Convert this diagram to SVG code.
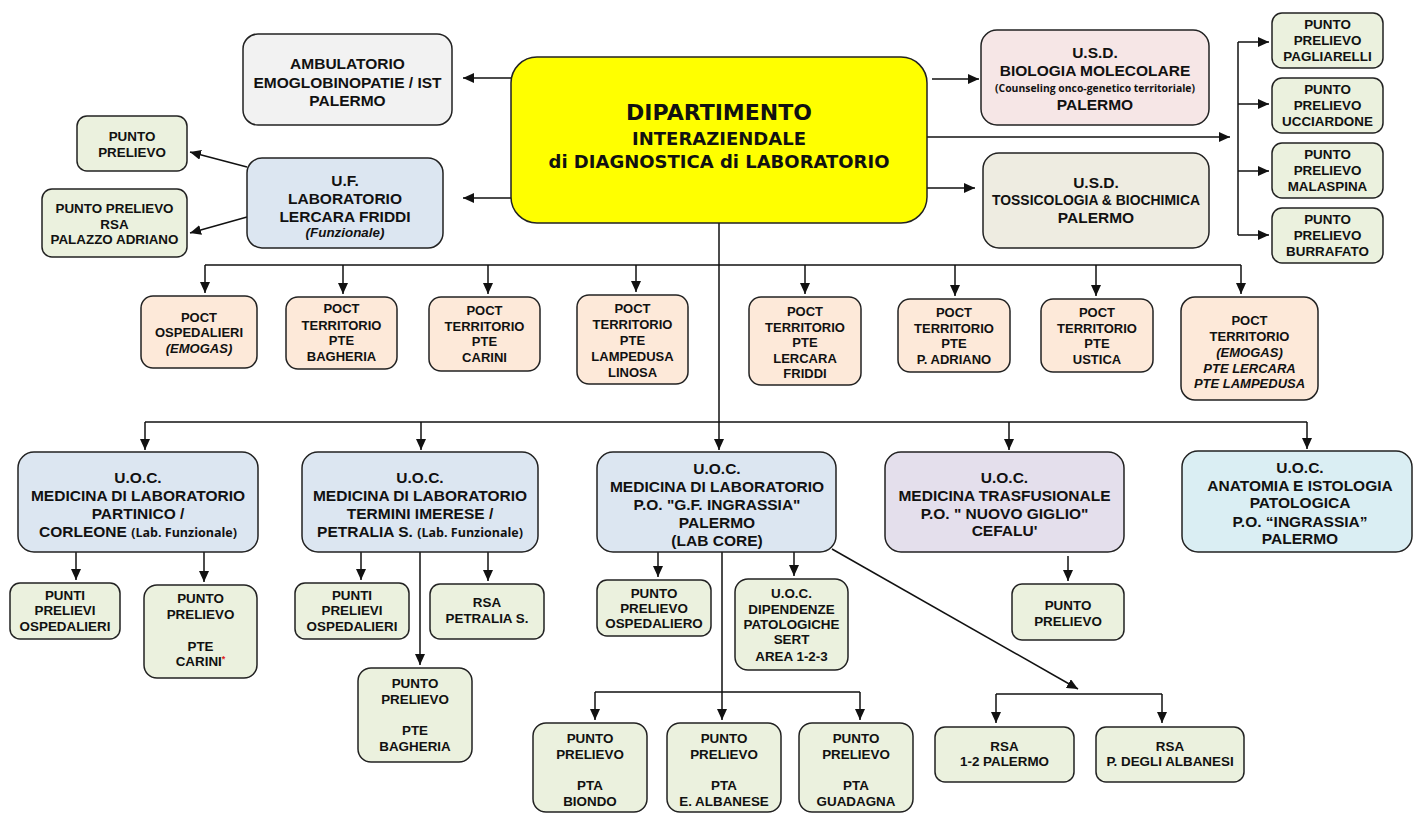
<svg xmlns="http://www.w3.org/2000/svg" width="1413" height="816" viewBox="0 0 1413 816">
<defs>
<marker id="ah" markerWidth="11" markerHeight="10" refX="11" refY="5" orient="auto" markerUnits="userSpaceOnUse"><path d="M0,0 L11,5 L0,10 z" fill="#111"/></marker>
<style>
.bx{stroke:#222;stroke-width:1.5}
.grey{fill:#f2f2f2}.yel{fill:#ffff00}.pink{fill:#f6e6e6}.tan{fill:#eeece1}
.grn{fill:#ebf1de}.blu{fill:#dce6f1}.poct{fill:#fde9d9}.lav{fill:#e4dfec}.cyan{fill:#daeef3}
text{font-family:"Liberation Sans",Arial,sans-serif;font-weight:bold;text-anchor:middle;fill:#111}
.L{font-size:15.5px}.S{font-size:13.4px}.P{font-size:13px}
.it{font-style:italic}
.dj{font-family:"DejaVu Sans",Verdana,sans-serif}
.cal{font-family:"Open Sans","Liberation Sans",sans-serif;font-weight:bold}
.ln{fill:none;stroke:#111;stroke-width:1.5}
.ar{marker-end:url(#ah)}
</style>
</defs>
<rect width="1413" height="816" fill="#fff"/>

<g id="connectors">
<path class="ln ar" d="M511,78 H463"/>
<path class="ln ar" d="M511,198 H463"/>
<path class="ln ar" d="M247,167 L190,152"/>
<path class="ln ar" d="M247,217 L190,233"/>
<path class="ln ar" d="M932,79 H979"/>
<path class="ln ar" d="M927,137 H1230"/>
<path class="ln ar" d="M927,188 H975"/>
<path class="ln" d="M1238,42 V235"/>
<path class="ln ar" d="M1238,42 H1269"/>
<path class="ln ar" d="M1238,104 H1269"/>
<path class="ln ar" d="M1238,171 H1269"/>
<path class="ln ar" d="M1238,235 H1269"/>
<path class="ln ar" d="M719,223 V450"/>
<path class="ln" d="M205,265 H1241"/>
<path class="ln ar" d="M205,265 V293"/>
<path class="ln ar" d="M343,265 V294"/>
<path class="ln ar" d="M488,265 V294"/>
<path class="ln ar" d="M636,265 V292"/>
<path class="ln ar" d="M805,265 V294"/>
<path class="ln ar" d="M955,265 V296"/>
<path class="ln ar" d="M1096,265 V296"/>
<path class="ln ar" d="M1241,265 V294"/>
<path class="ln" d="M145,422 H1307"/>
<path class="ln ar" d="M145,422 V450"/>
<path class="ln ar" d="M421,422 V450"/>
<path class="ln ar" d="M1009,422 V450"/>
<path class="ln ar" d="M1307,422 V449"/>
<path class="ln ar" d="M76,552 V580"/>
<path class="ln ar" d="M204,552 V582"/>
<path class="ln ar" d="M361,552 V580"/>
<path class="ln ar" d="M488,552 V581"/>
<path class="ln ar" d="M420,552 V665"/>
<path class="ln ar" d="M658,552 V577"/>
<path class="ln ar" d="M794,552 V576"/>
<path class="ln" d="M722,552 V692 M595,692 H860"/>
<path class="ln ar" d="M595,692 V720"/>
<path class="ln ar" d="M722,692 V720"/>
<path class="ln ar" d="M860,692 V720"/>
<path class="ln ar" d="M832,549 L1078,689"/>
<path class="ln" d="M996,694 H1162"/>
<path class="ln ar" d="M996,694 V723"/>
<path class="ln ar" d="M1162,694 V723"/>
<path class="ln ar" d="M1068,556 V581"/>
</g>

<g id="ambulatorio">
<rect class="bx grey" x="243" y="34" width="209" height="91" rx="15"/>
<text class="L" x="347.5" y="69">AMBULATORIO</text>
<text class="L" x="347.5" y="88">EMOGLOBINOPATIE / IST</text>
<text class="L" x="347.5" y="106">PALERMO</text>
</g>

<g id="dipartimento">
<rect class="bx yel" x="511" y="57" width="416" height="166" rx="26"/>
<text class="dj" x="719" y="120" font-size="22">DIPARTIMENTO</text>
<text class="dj" x="719" y="145" font-size="18">INTERAZIENDALE</text>
<text class="dj" x="719" y="168" font-size="18">di DIAGNOSTICA di LABORATORIO</text>
</g>

<g id="punto-prelievo-lf">
<rect class="bx grn" x="77" y="116" width="110" height="55" rx="10"/>
<text class="S" x="132" y="141">PUNTO</text>
<text class="S" x="132" y="157">PRELIEVO</text>
</g>

<g id="rsa-palazzo-adriano">
<rect class="bx grn" x="42" y="189" width="145" height="68" rx="10"/>
<text class="S" x="114.5" y="213">PUNTO PRELIEVO</text>
<text class="S" x="114.5" y="229">RSA</text>
<text class="S" x="114.5" y="244">PALAZZO ADRIANO</text>
</g>

<g id="uf-lercara">
<rect class="bx blu" x="247" y="158" width="196" height="90" rx="15"/>
<text class="L" x="345" y="185.5">U.F.</text>
<text class="L" x="345" y="203.5">LABORATORIO</text>
<text class="L" x="345" y="221.5">LERCARA FRIDDI</text>
<text class="S it" x="345" y="237">(Funzionale)</text>
</g>

<g id="usd-biologia">
<rect class="bx pink" x="981" y="30" width="228" height="95" rx="16"/>
<text class="L" x="1095" y="57.5">U.S.D.</text>
<text class="L" x="1095" y="75.5">BIOLOGIA MOLECOLARE</text>
<text class="cal" x="1095" y="92" font-size="11" textLength="200" lengthAdjust="spacingAndGlyphs">(Counseling onco-genetico territoriale)</text>
<text class="L" x="1095" y="109.5">PALERMO</text>
</g>

<g id="usd-tossicologia">
<rect class="bx tan" x="983" y="153" width="226" height="95" rx="16"/>
<text class="L" x="1096" y="187.5">U.S.D.</text>
<text class="L" x="1096" y="204.5" textLength="208" lengthAdjust="spacingAndGlyphs">TOSSICOLOGIA &amp; BIOCHIMICA</text>
<text class="L" x="1096" y="222.5">PALERMO</text>
</g>

<g id="pp-pagliarelli">
<rect class="bx grn" x="1272" y="13" width="111" height="55" rx="10"/>
<text class="S" x="1327.5" y="29">PUNTO</text>
<text class="S" x="1327.5" y="45">PRELIEVO</text>
<text class="S" x="1327.5" y="61">PAGLIARELLI</text>
</g>
<g id="pp-ucciardone">
<rect class="bx grn" x="1272" y="78" width="111" height="55" rx="10"/>
<text class="S" x="1327.5" y="94">PUNTO</text>
<text class="S" x="1327.5" y="110">PRELIEVO</text>
<text class="S" x="1327.5" y="126">UCCIARDONE</text>
</g>
<g id="pp-malaspina">
<rect class="bx grn" x="1272" y="143" width="111" height="55" rx="10"/>
<text class="S" x="1327.5" y="159">PUNTO</text>
<text class="S" x="1327.5" y="175">PRELIEVO</text>
<text class="S" x="1327.5" y="191">MALASPINA</text>
</g>
<g id="pp-burrafato">
<rect class="bx grn" x="1272" y="208" width="111" height="55" rx="10"/>
<text class="S" x="1327.5" y="224">PUNTO</text>
<text class="S" x="1327.5" y="240">PRELIEVO</text>
<text class="S" x="1327.5" y="256">BURRAFATO</text>
</g>

<g id="poct-ospedalieri">
<rect class="bx poct" x="141" y="296" width="116" height="72" rx="12"/>
<text class="P" x="199" y="321.5">POCT</text>
<text class="P" x="199" y="337">OSPEDALIERI</text>
<text class="P it" x="199" y="352.5">(EMOGAS)</text>
</g>
<g id="poct-bagheria">
<rect class="bx poct" x="286" y="297" width="111" height="72" rx="12"/>
<text class="P" x="341.5" y="313">POCT</text>
<text class="P" x="341.5" y="329.5">TERRITORIO</text>
<text class="P" x="341.5" y="345">PTE</text>
<text class="P" x="341.5" y="360.5">BAGHERIA</text>
</g>
<g id="poct-carini">
<rect class="bx poct" x="429" y="297" width="111" height="74" rx="12"/>
<text class="P" x="484.5" y="315">POCT</text>
<text class="P" x="484.5" y="331">TERRITORIO</text>
<text class="P" x="484.5" y="346">PTE</text>
<text class="P" x="484.5" y="362">CARINI</text>
</g>
<g id="poct-lampedusa">
<rect class="bx poct" x="577" y="295" width="111" height="89" rx="12"/>
<text class="P" x="632.5" y="313">POCT</text>
<text class="P" x="632.5" y="329">TERRITORIO</text>
<text class="P" x="632.5" y="345">PTE</text>
<text class="P" x="632.5" y="361">LAMPEDUSA</text>
<text class="P" x="632.5" y="377">LINOSA</text>
</g>
<g id="poct-lercara">
<rect class="bx poct" x="749" y="297" width="112" height="88" rx="12"/>
<text class="P" x="805" y="316">POCT</text>
<text class="P" x="805" y="332">TERRITORIO</text>
<text class="P" x="805" y="347">PTE</text>
<text class="P" x="805" y="363">LERCARA</text>
<text class="P" x="805" y="378">FRIDDI</text>
</g>
<g id="poct-padriano">
<rect class="bx poct" x="898" y="299" width="112" height="73" rx="12"/>
<text class="P" x="954" y="317">POCT</text>
<text class="P" x="954" y="333">TERRITORIO</text>
<text class="P" x="954" y="348">PTE</text>
<text class="P" x="954" y="364">P. ADRIANO</text>
</g>
<g id="poct-ustica">
<rect class="bx poct" x="1041" y="299" width="112" height="73" rx="12"/>
<text class="P" x="1097" y="317">POCT</text>
<text class="P" x="1097" y="333">TERRITORIO</text>
<text class="P" x="1097" y="348">PTE</text>
<text class="P" x="1097" y="364">USTICA</text>
</g>
<g id="poct-emogas">
<rect class="bx poct" x="1181" y="297" width="137" height="103" rx="14"/>
<text class="P" x="1249.5" y="325">POCT</text>
<text class="P" x="1249.5" y="341">TERRITORIO</text>
<text class="P it" x="1249.5" y="357">(EMOGAS)</text>
<text class="P it" x="1249.5" y="373">PTE LERCARA</text>
<text class="P it" x="1249.5" y="388">PTE LAMPEDUSA</text>
</g>

<g id="uoc-partinico">
<rect class="bx blu" x="18" y="452" width="240" height="100" rx="16"/>
<text class="L" x="138" y="482.5">U.O.C.</text>
<text class="L" x="138" y="500.5">MEDICINA DI LABORATORIO</text>
<text class="L" x="138" y="518.5">PARTINICO /</text>
<text class="L" x="138" y="536.5">CORLEONE <tspan class="cal" font-size="12.5">(Lab. Funzionale)</tspan></text>
</g>
<g id="uoc-termini">
<rect class="bx blu" x="302" y="452" width="236" height="100" rx="16"/>
<text class="L" x="420" y="482.5">U.O.C.</text>
<text class="L" x="420" y="500.5">MEDICINA DI LABORATORIO</text>
<text class="L" x="420" y="518.5">TERMINI IMERESE /</text>
<text class="L" x="420" y="536.5">PETRALIA S. <tspan class="cal" font-size="12.5">(Lab. Funzionale)</tspan></text>
</g>
<g id="uoc-labcore">
<rect class="bx blu" x="597" y="452" width="239" height="100" rx="16"/>
<text class="L" x="717" y="473.5">U.O.C.</text>
<text class="L" x="717" y="491.5">MEDICINA DI LABORATORIO</text>
<text class="L" x="717" y="509.5">P.O. "G.F. INGRASSIA"</text>
<text class="L" x="717" y="527.5">PALERMO</text>
<text class="L" x="717" y="545.5">(LAB CORE)</text>
</g>
<g id="uoc-trasfusionale">
<rect class="bx lav" x="885" y="452" width="239" height="100" rx="16"/>
<text class="L" x="1004.5" y="482.5">U.O.C.</text>
<text class="L" x="1004.5" y="500.5">MEDICINA TRASFUSIONALE</text>
<text class="L" x="1004.5" y="518.5">P.O. " NUOVO GIGLIO"</text>
<text class="L" x="1004.5" y="535.5">CEFALU'</text>
</g>
<g id="uoc-anatomia">
<rect class="bx cyan" x="1182" y="451" width="230" height="101" rx="16"/>
<text class="L" x="1300" y="472.5">U.O.C.</text>
<text class="L" x="1300" y="490.5">ANATOMIA E ISTOLOGIA</text>
<text class="L" x="1300" y="507.5">PATOLOGICA</text>
<text class="L" x="1300" y="526.5">P.O. “INGRASSIA”</text>
<text class="L" x="1300" y="543.5">PALERMO</text>
</g>

<g id="punti-prelievi-osp-1">
<rect class="bx grn" x="10" y="583" width="110" height="56" rx="10"/>
<text class="S" x="65" y="600">PUNTI</text>
<text class="S" x="65" y="615">PRELIEVI</text>
<text class="S" x="65" y="631">OSPEDALIERI</text>
</g>
<g id="pp-pte-carini">
<rect class="bx grn" x="144" y="585" width="113" height="93" rx="13"/>
<text class="S" x="200.5" y="603">PUNTO</text>
<text class="S" x="200.5" y="619">PRELIEVO</text>
<text class="S" x="200.5" y="651">PTE</text>
<text class="S" x="200.5" y="666">CARINI<tspan fill="#e02020" font-size="9" dy="-4">*</tspan></text>
</g>
<g id="punti-prelievi-osp-2">
<rect class="bx grn" x="295" y="583" width="114" height="56" rx="10"/>
<text class="S" x="352" y="600">PUNTI</text>
<text class="S" x="352" y="615">PRELIEVI</text>
<text class="S" x="352" y="631">OSPEDALIERI</text>
</g>
<g id="rsa-petralia">
<rect class="bx grn" x="430" y="584" width="114" height="55" rx="10"/>
<text class="S" x="487" y="607">RSA</text>
<text class="S" x="487" y="623">PETRALIA S.</text>
</g>
<g id="pp-pte-bagheria">
<rect class="bx grn" x="358" y="668" width="114" height="94" rx="13"/>
<text class="S" x="415" y="688">PUNTO</text>
<text class="S" x="415" y="704">PRELIEVO</text>
<text class="S" x="415" y="735">PTE</text>
<text class="S" x="415" y="751">BAGHERIA</text>
</g>
<g id="pp-ospedaliero">
<rect class="bx grn" x="597" y="580" width="114" height="56" rx="10"/>
<text class="S" x="654" y="598">PUNTO</text>
<text class="S" x="654" y="613">PRELIEVO</text>
<text class="S" x="654" y="628">OSPEDALIERO</text>
</g>
<g id="uoc-dipendenze">
<rect class="bx grn" x="735" y="579" width="113" height="91" rx="13"/>
<text class="S" x="791.5" y="598">U.O.C.</text>
<text class="S" x="791.5" y="614">DIPENDENZE</text>
<text class="S" x="791.5" y="629">PATOLOGICHE</text>
<text class="S" x="791.5" y="644">SERT</text>
<text class="S" x="791.5" y="661">AREA 1-2-3</text>
</g>
<g id="pp-trasfusionale">
<rect class="bx grn" x="1012" y="584" width="112" height="56" rx="10"/>
<text class="S" x="1068" y="610">PUNTO</text>
<text class="S" x="1068" y="626">PRELIEVO</text>
</g>
<g id="pta-biondo">
<rect class="bx grn" x="533" y="723" width="114" height="89" rx="13"/>
<text class="S" x="590" y="743">PUNTO</text>
<text class="S" x="590" y="759">PRELIEVO</text>
<text class="S" x="590" y="790">PTA</text>
<text class="S" x="590" y="806">BIONDO</text>
</g>
<g id="pta-albanese">
<rect class="bx grn" x="667" y="723" width="114" height="89" rx="13"/>
<text class="S" x="724" y="743">PUNTO</text>
<text class="S" x="724" y="759">PRELIEVO</text>
<text class="S" x="724" y="790">PTA</text>
<text class="S" x="724" y="806">E. ALBANESE</text>
</g>
<g id="pta-guadagna">
<rect class="bx grn" x="799" y="723" width="114" height="89" rx="13"/>
<text class="S" x="856" y="743">PUNTO</text>
<text class="S" x="856" y="759">PRELIEVO</text>
<text class="S" x="856" y="790">PTA</text>
<text class="S" x="856" y="806">GUADAGNA</text>
</g>
<g id="rsa-palermo">
<rect class="bx grn" x="935" y="727" width="139" height="55" rx="10"/>
<text class="S" x="1004.5" y="751">RSA</text>
<text class="S" x="1004.5" y="766">1-2 PALERMO</text>
</g>
<g id="rsa-albanesi">
<rect class="bx grn" x="1096" y="727" width="148" height="55" rx="10"/>
<text class="S" x="1170" y="751">RSA</text>
<text class="S" x="1170" y="766">P. DEGLI ALBANESI</text>
</g>
</svg>
